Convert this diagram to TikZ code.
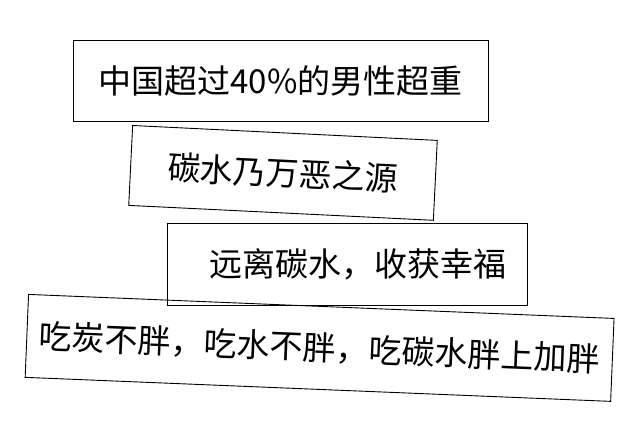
\documentclass[tikz,border=0pt]{standalone}
\usepackage{fontspec}
\newfontfamily\cjk{Noto Sans CJK SC}
\begin{document}
\begin{tikzpicture}[x=1pt,y=1pt,
		slab/.style={draw, line width=.9pt, inner sep=0pt, font=\cjk\fontsize{33pt}{39pt}\selectfont}]
		\useasboundingbox (0,0) rectangle (640,433);
		
		\node[slab, minimum width=415pt, minimum height=81pt] (fact) at (280.5,352.3) {中国超过40\%的男性超重};
		\node[slab, minimum width=305pt, minimum height=80pt, rotate=-2.8] (source) at (283,260.1) {碳水乃万恶之源};
		\node[slab, minimum width=360pt, minimum height=82pt] (advice) at (347.3,168.8) {\hspace*{21pt}远离碳水，收获幸福};
		
		\node[slab, minimum width=586pt, minimum height=83pt, rotate=-2.35] (rule) at (319.6,85.1) {吃炭不胖，吃水不胖，吃碳水胖上加胖};
		\end{tikzpicture}
\end{document}
